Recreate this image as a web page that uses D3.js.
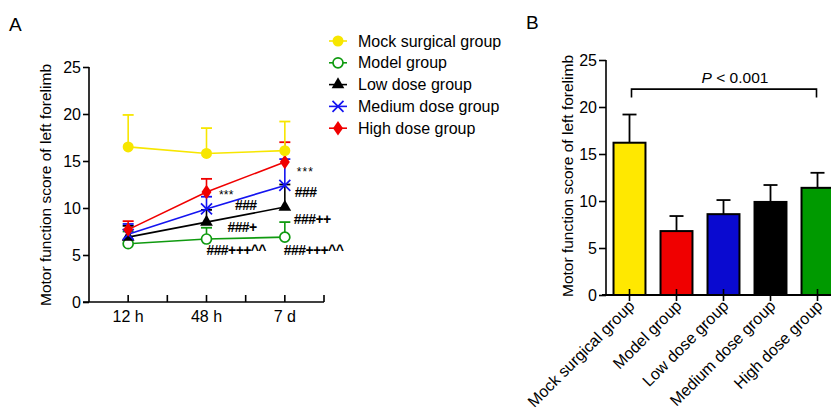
<!DOCTYPE html>
<html><head><meta charset="utf-8">
<script src="https://cdn.jsdelivr.net/npm/d3@7"></script>
<style>body{margin:0;background:#fff}svg{display:block;font-family:"Liberation Sans",Arial,sans-serif}</style>
</head><body><svg id="c" width="831" height="410"></svg>
<script>
// ---------- data ----------
const timepoints = ["12 h", "48 h", "7 d"];
const groups = ["Mock surgical group", "Model group", "Low dose group", "Medium dose group", "High dose group"];
const mockA = [16.5, 15.8, 16.1],  mockSD = [3.4, 2.7, 3.1];
const modelA = [6.2, 6.7, 6.9],    modelSD = [1.3, 1.2, 1.6];
const lowA = [6.9, 8.5, 10.1],     lowSD = [1.2, 1.3, 2.4];
const medA = [7.2, 9.9, 12.4],     medSD = [1.1, 1.3, 2.8];
const highA = [7.7, 11.7, 14.9],   highSD = [0.9, 1.4, 2.1];
const barValues = [16.2, 6.8, 8.6, 9.9, 11.4];
const barSD = [3.0, 1.6, 1.5, 1.8, 1.6];
const yTicks = [0, 5, 10, 15, 20, 25];
const annot48 = ["***", "###", "###+", "###+++^^"];
const annot7d = ["***", "###", "###++", "###+++^^"];
const yTitle = "Motor function score of left forelimb";
const pText = "< 0.001";

const svg = d3.select("#c");
const TICKF = 16, TITLEF = 15.5, LEGF = 16;

// ---------- Panel A ----------
const colorsA = ["#f7e600", "#0f9a0f", "#000000", "#1414f0", "#f00000"];
const seriesA = [
  {name: groups[0], v: mockA, sd: mockSD, c: colorsA[0], shape: "circleF"},
  {name: groups[1], v: modelA, sd: modelSD, c: colorsA[1], shape: "circleO"},
  {name: groups[2], v: lowA, sd: lowSD, c: colorsA[2], shape: "tri"},
  {name: groups[3], v: medA, sd: medSD, c: colorsA[3], shape: "x"},
  {name: groups[4], v: highA, sd: highSD, c: colorsA[4], shape: "diamond"}
];
const xA = d3.scaleBand().domain(timepoints).range([89, 324]).padding(0);
const yA = d3.scaleLinear().domain([0, 25]).range([302, 67]);
const gA = svg.append("g");
const cx = t => xA(t) + xA.bandwidth() / 2;

// y axis
const yAxA = gA.append("g").attr("transform", "translate(89,0)")
  .call(d3.axisLeft(yA).tickValues(yTicks).tickSize(6).tickPadding(2));
yAxA.select(".domain").attr("stroke-width", 1.6).attr("d", `M0,${yA(25)}V${yA(0)}`);
yAxA.selectAll(".tick line").attr("stroke-width", 1.6);
yAxA.selectAll("text").attr("font-size", TICKF).attr("fill", "#000").attr("font-family", "Liberation Sans, Arial");
// x axis
gA.append("line").attr("x1", 83).attr("x2", 324).attr("y1", 302).attr("y2", 302).attr("stroke", "#000").attr("stroke-width", 1.6);
const tickPos = [];
timepoints.forEach(t => { tickPos.push(cx(t)); tickPos.push(xA(t) + xA.bandwidth()); });
gA.selectAll(".xt").data(tickPos).enter().append("line")
  .attr("x1", d => d).attr("x2", d => d).attr("y1", 302).attr("y2", 295)
  .attr("stroke", "#000").attr("stroke-width", 1.6);
gA.selectAll(".xl").data(timepoints).enter().append("text")
  .attr("x", d => cx(d)).attr("y", 322).attr("text-anchor", "middle")
  .attr("font-size", TICKF).text(d => d);
gA.append("text").attr("transform", "translate(51,185) rotate(-90)")
  .attr("text-anchor", "middle").attr("font-size", TITLEF).text(yTitle);
svg.append("text").attr("x", 9).attr("y", 31).attr("font-size", 19).text("A");

function marker(g, shape, c, x, y, s) {
  s = s || 1;
  if (shape === "circleF") g.append("circle").attr("cx", x).attr("cy", y).attr("r", 5.5 * s).attr("fill", c);
  else if (shape === "circleO") g.append("circle").attr("cx", x).attr("cy", y).attr("r", 5 * s).attr("fill", "#fff").attr("stroke", c).attr("stroke-width", 1.7);
  else if (shape === "tri") g.append("path").attr("d", d3.symbol(d3.symbolTriangle, 70 * s * s)()).attr("transform", `translate(${x},${y})`).attr("fill", c);
  else if (shape === "x") {
    const r = 5.5 * s;
    g.append("path").attr("d", `M${x - r},${y - r}L${x + r},${y + r}M${x - r},${y + r}L${x + r},${y - r}`).attr("stroke", c).attr("stroke-width", 1.7);
  }
  else if (shape === "diamond") g.append("path").attr("d", d3.symbol(d3.symbolDiamond, 60 * s * s)()).attr("transform", `translate(${x},${y}) scale(1.2,1)`).attr("fill", c);
}

const drawOrder = [1, 2, 3, 4, 0];
drawOrder.forEach(i => {
  const s = seriesA[i];
  const g = gA.append("g");
  timepoints.forEach((t, j) => {
    const x = cx(t), y0 = yA(s.v[j]), y1 = yA(s.v[j] + s.sd[j]);
    g.append("line").attr("x1", x).attr("x2", x).attr("y1", y0).attr("y2", y1).attr("stroke", s.c).attr("stroke-width", 1.6);
    g.append("line").attr("x1", x - 5.5).attr("x2", x + 5.5).attr("y1", y1).attr("y2", y1).attr("stroke", s.c).attr("stroke-width", 1.8);
  });
  const line = d3.line().x((d, j) => cx(timepoints[j])).y(d => yA(d));
  g.append("path").attr("d", line(s.v)).attr("fill", "none").attr("stroke", s.c).attr("stroke-width", 1.6);
  timepoints.forEach((t, j) => marker(g, s.shape, s.c, cx(t), yA(s.v[j])));
});

// annotations (offsets relative to the related data point)
const aOff48 = [{dx: 12.5, dy: 2, fs: 12, ls: 0.2}, {dx: 28.5, dy: -4, fs: 14, ls: -0.6}, {dx: 21, dy: 5, fs: 14, ls: -0.6}, {dx: 0, dy: 11, fs: 14, ls: -0.6}];
const aOff7d = [{dx: 12, dy: 9, fs: 12, ls: 1}, {dx: 10, dy: 7, fs: 14, ls: -0.6}, {dx: 9, dy: 12, fs: 14, ls: -0.6}, {dx: -1, dy: 13, fs: 14, ls: -0.6}];
const anchorsY48 = [yA(highA[1]), yA(medA[1]), yA(lowA[1]), yA(modelA[1])];
const anchorsY7d = [yA(highA[2]), yA(medA[2]), yA(lowA[2]), yA(modelA[2])];
function annot(texts, offs, anchorsY, t) {
  texts.forEach((txt, k) => {
    gA.append("text").attr("x", cx(t) + offs[k].dx).attr("y", anchorsY[k] + offs[k].dy + 5)
      .attr("font-size", offs[k].fs).attr("font-weight", k ? "bold" : "normal")
      .attr("letter-spacing", offs[k].ls).text(txt);
  });
}
annot(annot48, aOff48, anchorsY48, timepoints[1]);
annot(annot7d, aOff7d, anchorsY7d, timepoints[2]);

// legend
const leg = svg.append("g");
seriesA.forEach((s, i) => {
  const y = 41 + i * 21.8;
  leg.append("line").attr("x1", 329).attr("x2", 347).attr("y1", y).attr("y2", y).attr("stroke", s.c).attr("stroke-width", 1.6);
  marker(leg, s.shape, s.c, 338, y, 1.0);
  leg.append("text").attr("x", 358).attr("y", y + 5.5).attr("font-size", LEGF).text(s.name);
});

// ---------- Panel B ----------
const colorsB = ["#ffe800", "#f00000", "#0a0ad0", "#000000", "#009a00"];
const xB = d3.scaleBand().domain(groups).range([606, 841]).paddingInner(0.32).paddingOuter(0.16);
const yB = d3.scaleLinear().domain([0, 25]).range([295, 60]);
const gB = svg.append("g");
const cxB = g => xB(g) + xB.bandwidth() / 2;

gB.selectAll(".bar").data(groups).enter().append("rect")
  .attr("x", d => xB(d)).attr("width", xB.bandwidth())
  .attr("y", (d, i) => yB(barValues[i])).attr("height", (d, i) => yB(0) - yB(barValues[i]))
  .attr("fill", (d, i) => colorsB[i]).attr("stroke", "#000").attr("stroke-width", 2);
groups.forEach((g, i) => {
  const x = cxB(g), y0 = yB(barValues[i]), y1 = yB(barValues[i] + barSD[i]);
  gB.append("line").attr("x1", x).attr("x2", x).attr("y1", y0).attr("y2", y1).attr("stroke", "#000").attr("stroke-width", 1.8);
  gB.append("line").attr("x1", x - 7).attr("x2", x + 7).attr("y1", y1).attr("y2", y1).attr("stroke", "#000").attr("stroke-width", 1.8);
});
const yAxB = gB.append("g").attr("transform", "translate(606,0)")
  .call(d3.axisLeft(yB).tickValues(yTicks).tickSize(7).tickPadding(2));
yAxB.select(".domain").attr("stroke-width", 1.6).attr("d", `M0,${yB(25)}V${yB(0)}`);
yAxB.selectAll(".tick line").attr("stroke-width", 1.6);
yAxB.selectAll("text").attr("font-size", TICKF).attr("fill", "#000").attr("font-family", "Liberation Sans, Arial");
gB.append("line").attr("x1", 602).attr("x2", 831).attr("y1", 295).attr("y2", 295).attr("stroke", "#000").attr("stroke-width", 1.8);
gB.selectAll(".bt").data(groups).enter().append("line")
  .attr("x1", d => cxB(d)).attr("x2", d => cxB(d)).attr("y1", 289).attr("y2", 301)
  .attr("stroke", "#000").attr("stroke-width", 1.6);
gB.selectAll(".bl").data(groups).enter().append("text")
  .attr("transform", d => `translate(${cxB(d) + 6},${307}) rotate(-45)`)
  .attr("text-anchor", "end").attr("font-size", TICKF).text(d => d);
gB.append("text").attr("transform", "translate(573,176) rotate(-90)")
  .attr("text-anchor", "middle").attr("font-size", TITLEF).text(yTitle);
svg.append("text").attr("x", 526).attr("y", 29).attr("font-size", 19).text("B");

// significance bracket
const bx1 = cxB(groups[0]) + 2, bx2 = cxB(groups[4]) - 1, by = yB(21.9), byt = yB(21.0);
gB.append("path").attr("d", `M${bx1},${byt}V${by}H${bx2}V${byt}`).attr("fill", "none").attr("stroke", "#000").attr("stroke-width", 1.6);
const pt = gB.append("text").attr("x", (bx1 + bx2) / 2 + 11).attr("y", 83).attr("text-anchor", "middle").attr("font-size", TITLEF);
pt.append("tspan").attr("font-style", "italic").text("P");
pt.append("tspan").text(" " + pText);
</script></body></html>
